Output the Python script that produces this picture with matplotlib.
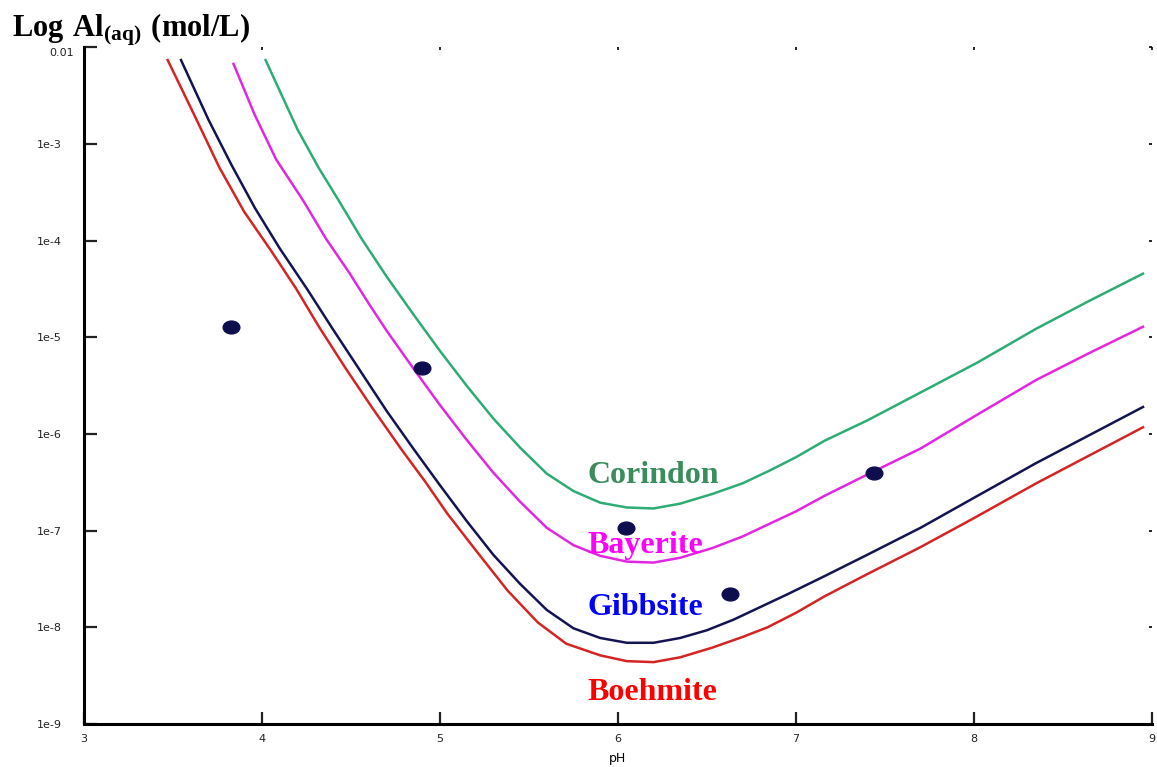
import numpy as np
import matplotlib
matplotlib.use('Agg')
import matplotlib.pyplot as plt
import matplotlib.transforms as mtrans
from matplotlib.path import Path
from matplotlib import rc

rc('mathtext', fontset='custom', rm='Liberation Serif', bf='Liberation Serif:bold')

# solubility curves, log10 Al(aq) vs pH
ph_gibb = [3.545, 3.70, 3.83, 3.96, 4.10, 4.25, 4.40, 4.55, 4.70, 4.85, 5.00, 5.15, 5.30,
           5.45, 5.60, 5.75, 5.90, 6.05, 6.20, 6.35, 6.50, 6.65, 6.80, 6.95, 7.15, 7.40,
           7.70, 8.00, 8.35, 8.65, 8.95]
log_gibb = [-2.13, -2.75, -3.22, -3.66, -4.08, -4.49, -4.92, -5.34, -5.76, -6.15, -6.53, -6.90, -7.25,
            -7.55, -7.82, -8.01, -8.11, -8.16, -8.16, -8.11, -8.03, -7.92, -7.79, -7.66, -7.48, -7.25,
            -6.97, -6.66, -6.30, -6.01, -5.72]

ph_boeh = [3.47, 3.62, 3.76, 3.90, 4.05, 4.19, 4.32, 4.47, 4.62, 4.78, 4.92, 5.04, 5.20,
           5.38, 5.55, 5.71, 5.90, 6.05, 6.20, 6.35, 6.53, 6.70, 6.84, 7.00, 7.16, 7.40,
           7.70, 8.00, 8.35, 8.65, 8.95]
log_boeh = [-2.13, -2.70, -3.24, -3.70, -4.10, -4.49, -4.89, -5.32, -5.73, -6.15, -6.50, -6.82, -7.20,
            -7.62, -7.95, -8.17, -8.29, -8.35, -8.36, -8.31, -8.21, -8.10, -8.00, -7.85, -7.68, -7.45,
            -7.17, -6.87, -6.51, -6.22, -5.93]

ph_baye = [3.84, 3.96, 4.08, 4.23, 4.36, 4.49, 4.60, 4.70, 4.85, 5.00, 5.15, 5.30, 5.45,
           5.60, 5.75, 5.90, 6.05, 6.20, 6.35, 6.53, 6.70, 6.85, 7.00, 7.16, 7.40, 7.70,
           8.00, 8.35, 8.65, 8.95]
log_baye = [-2.17, -2.70, -3.16, -3.58, -3.98, -4.33, -4.65, -4.93, -5.32, -5.70, -6.06, -6.40, -6.70,
            -6.97, -7.15, -7.26, -7.32, -7.33, -7.28, -7.18, -7.06, -6.93, -6.80, -6.64, -6.42, -6.15,
            -5.82, -5.44, -5.16, -4.89]

ph_cori = [4.02, 4.10, 4.20, 4.32, 4.43, 4.56, 4.70, 4.85, 5.00, 5.15, 5.30, 5.45, 5.60,
           5.75, 5.90, 6.05, 6.20, 6.35, 6.53, 6.70, 6.85, 7.00, 7.16, 7.40, 7.70, 8.02,
           8.35, 8.65, 8.95]
log_cori = [-2.13, -2.45, -2.85, -3.25, -3.58, -3.98, -4.37, -4.76, -5.14, -5.50, -5.84, -6.14, -6.41,
            -6.59, -6.71, -6.76, -6.77, -6.72, -6.62, -6.51, -6.38, -6.24, -6.07, -5.86, -5.57, -5.26,
            -4.91, -4.62, -4.34]

# measured samples
ph_pts = [3.826, 4.90, 6.045, 6.63, 7.44]
log_pts = [-4.89, -5.32, -6.97, -7.65, -6.40]

yticks = [1e-2, 1e-3, 1e-4, 1e-5, 1e-6, 1e-7, 1e-8, 1e-9]
ytick_labels = ['0.01', '1e-3', '1e-4', '1e-5', '1e-6', '1e-7', '1e-8', '1e-9']
xticks = [3, 4, 5, 6, 7, 8, 9]


fig = plt.figure(figsize=(11.57, 7.67), dpi=100)
ax = fig.add_axes([0.0726, 0.0561, 0.923, 0.882])

ax.plot(ph_boeh, 10**np.array(log_boeh), color='#d42424', lw=1.8)
ax.plot(ph_gibb, 10**np.array(log_gibb), color='#141452', lw=1.8)
ax.plot(ph_baye, 10**np.array(log_baye), color='#e028e0', lw=1.8)
ax.plot(ph_cori, 10**np.array(log_cori), color='#2eac74', lw=1.8)

circ = Path.unit_circle()
ell = Path(circ.vertices * np.array([1.3, 1.0]), circ.codes)
ax.plot(ph_pts, 10**np.array(log_pts), ls='none', marker=ell, ms=12,
        color='#0e0e4e')

lbl = dict(fontfamily='Liberation Serif', fontweight='bold', fontsize=23,
           ha='left', va='baseline')
ax.text(5.83, 10**-6.51, 'Corindon', color='#3a8c5c', **lbl)
ax.text(5.83, 10**-7.23, 'Bayerite', color='#ff00ff', **lbl)
ax.text(5.83, 10**-7.87, 'Gibbsite', color='#0000ff', **lbl)
ax.text(5.83, 10**-8.75, 'Boehmite', color='#ff0000', **lbl)

ax.set_yscale('log')
ax.set_xlim(3, 9)
ax.set_ylim(1e-9, 1e-2)
ax.set_yticks(yticks)
ax.set_yticklabels(ytick_labels)
ax.yaxis.set_minor_locator(matplotlib.ticker.NullLocator())
ax.set_xticks(xticks)

for s in ['top', 'right']:
    ax.spines[s].set_visible(False)
ax.spines['left'].set_linewidth(2.2)
ax.spines['bottom'].set_linewidth(2.2)
ax.tick_params(direction='in', length=9, width=1.6, labelsize=8, colors='#222222', pad=7)
ax.tick_params(axis='y', pad=16)

# "0.01" sits closer to the axis than the others
top_lbl = ax.get_yticklabels()[0]
top_lbl.set_transform(top_lbl.get_transform() +
                      mtrans.ScaledTranslation(12 / 100, -5 / 100, fig.dpi_scale_trans))

# tiny marks on the secondary sides
ax2 = ax.twinx()
ax2.set_yscale('log')
ax2.set_ylim(ax.get_ylim())
ax2.set_yticks(yticks)
ax2.yaxis.set_minor_locator(matplotlib.ticker.NullLocator())
ax2.tick_params(direction='in', length=2.5, width=1.2, labelright=False)
for s in ax2.spines.values():
    s.set_visible(False)
ax3 = ax.twiny()
ax3.set_xlim(ax.get_xlim())
ax3.set_xticks(xticks)
ax3.tick_params(direction='in', length=2.5, width=1.2, labeltop=False)
for s in ax3.spines.values():
    s.set_visible(False)

ax.set_xlabel('pH', fontsize=9, labelpad=6)

fig.text(0.010, 1 - 36 / 767, r'$\mathbf{Log\ Al_{(aq)}\ (mol/L)}$', fontsize=22,
         va='baseline', ha='left')

fig.savefig('out.png', dpi=100)
